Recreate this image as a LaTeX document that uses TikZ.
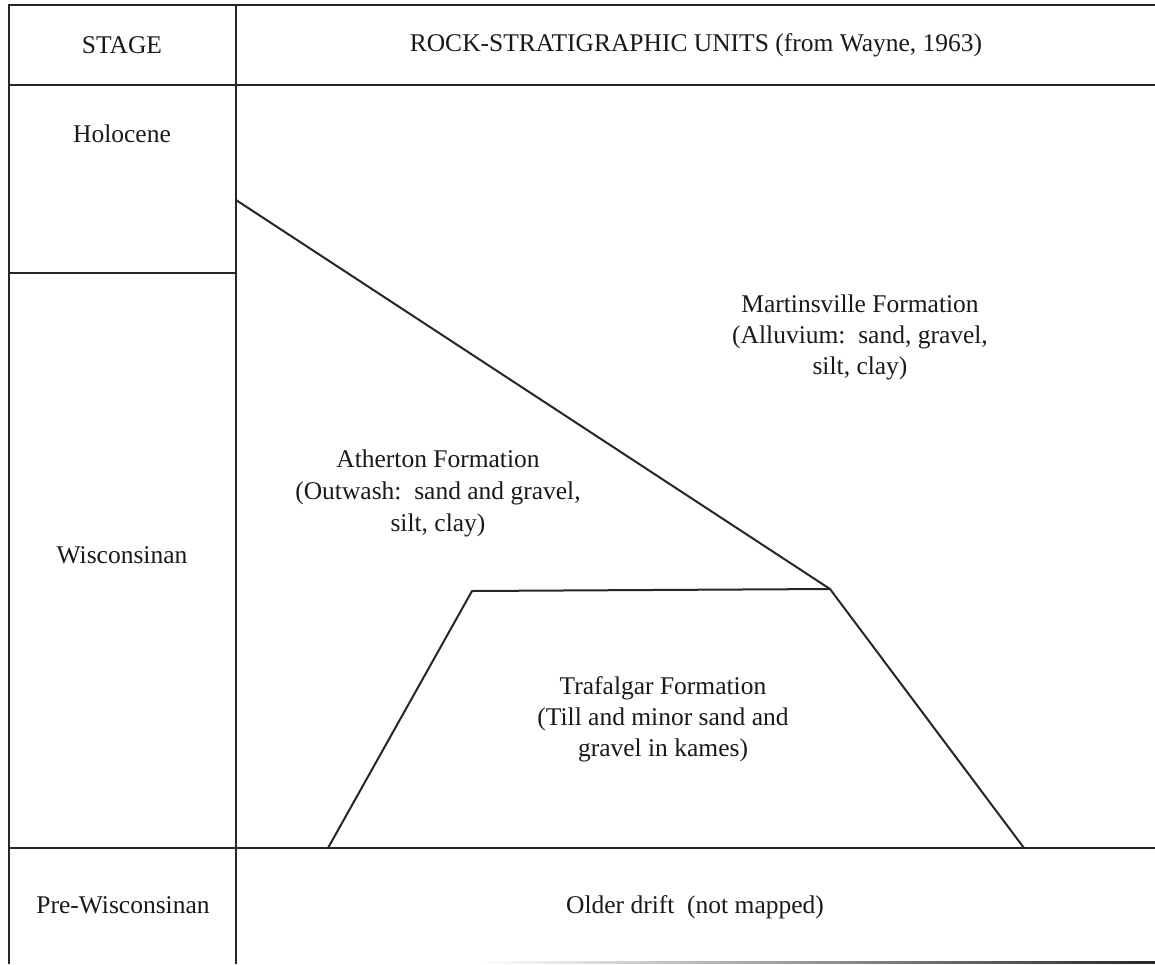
\documentclass[tikz,border=0pt]{standalone}
\usepackage{fontspec}
\setmainfont{Liberation Serif}
\begin{document}
\begin{tikzpicture}[x=1pt,y=-1pt,
  rule/.style={line width=2pt, black!85},
  txt/.style={anchor=base, inner sep=0pt, font=\fontsize{25.5}{31}\selectfont, text=black!90}]
\useasboundingbox (0,0) rectangle (1155,964);
% table grid
\coordinate (tr) at (1155,5);
\coordinate (tl) at (9,5);
\coordinate (bl) at (9,964);
\coordinate (hl) at (9,85);
\coordinate (hr) at (1155,85);
\coordinate (ct) at (236,5);
\coordinate (cb) at (236,964);
\coordinate (hol) at (9,273);
\coordinate (holr) at (236,273);
\coordinate (pl) at (9,848);
\coordinate (pr) at (1155,848);
\draw[rule] (tr) -- (tl) -- (bl);
\draw[rule] (hl) -- (hr);
\draw[rule] (ct) -- (cb);
\draw[rule] (hol) -- (holr);
\draw[rule] (pl) -- (pr);
% formation boundaries
\coordinate (d0) at (236,200);
\coordinate (t1) at (328,848);
\coordinate (t2) at (472,591);
\coordinate (t3) at (830,589);
\coordinate (t4) at (1024,848);
\draw[rule] (d0) -- (t3);
\draw[rule, line join=round] (t1) -- (t2) -- (t3) -- (t4);
% faint bottom line
\shade[left color=white, right color=black!85] (480,961) rectangle (1155,963.5);
% texts
\node[txt] (stage) at (122,53) {STAGE};
\node[txt] (units) at (696,51) {ROCK-STRATIGRAPHIC UNITS (from Wayne, 1963)};
\node[txt] (holo) at (122,142) {Holocene};
\node[txt] (wisc) at (122,563) {Wisconsinan};
\node[txt] (prew) at (123,913) {Pre-Wisconsinan};
\node[txt] (older) at (695,913) {Older drift\ \ (not mapped)};
\node[txt] (m1) at (860,312) {Martinsville Formation};
\node[txt] (m2) at (860,343) {(Alluvium:\ \ sand, gravel,};
\node[txt] (m3) at (860,374) {silt, clay)};
\node[txt] (a1) at (438,467) {Atherton Formation};
\node[txt] (a2) at (438,499) {(Outwash:\ \ sand and gravel,};
\node[txt] (a3) at (438,531) {silt, clay)};
\node[txt] (f1) at (663,694) {Trafalgar Formation};
\node[txt] (f2) at (663,725) {(Till and minor sand and};
\node[txt] (f3) at (663,756) {gravel in kames)};
\end{tikzpicture}
\end{document}
